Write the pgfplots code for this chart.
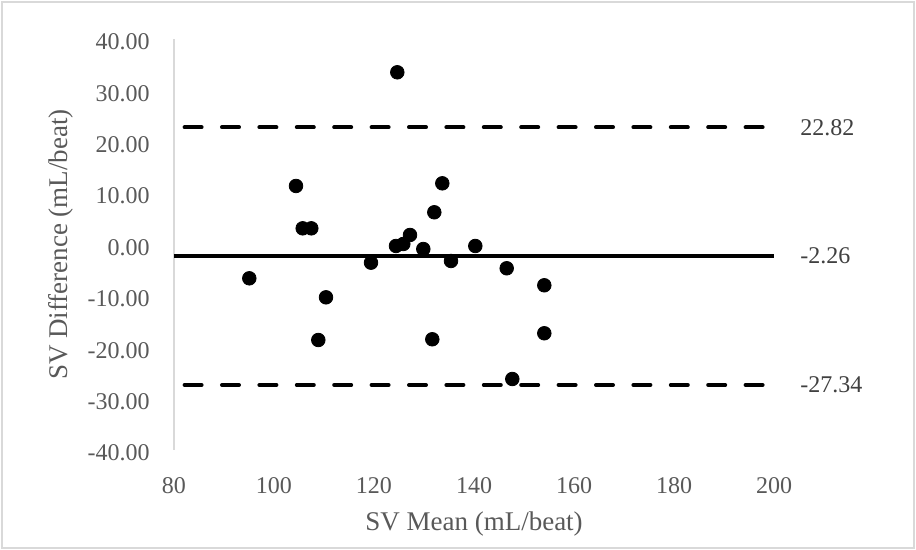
\documentclass[border=0pt]{standalone}
\usepackage{pgfplots}
\pgfplotsset{compat=1.18}
\usepackage{fontspec}
\setmainfont{Liberation Serif}
\definecolor{txt}{HTML}{595959}
\definecolor{lbl}{HTML}{404040}
\definecolor{axl}{HTML}{D9D9D9}
\begin{document}
\begin{tikzpicture}
\begin{axis}[
  at={(0,0)}, anchor=south west,
  scale only axis, width=300pt, height=205.5pt,
  xmin=80, xmax=200, ymin=-40, ymax=40,
  clip=false,
  axis x line*=bottom, axis y line*=left,
  x axis line style={draw=none},
  y axis line style={draw=axl, line width=0.8pt},
  major tick length=0pt,
  xtick={80,100,120,140,160,180,200},
  xticklabels={80,100,120,140,160,180,200},
  ytick={-40,-30,-20,-10,0,10,20,30,40},
  yticklabels={-40.00,-30.00,-20.00,-10.00,0.00,10.00,20.00,30.00,40.00},
  font=\fontsize{12}{14}\selectfont,
  tick label style={text=txt, font=\fontsize{12}{14}\selectfont},
  yticklabel style={anchor=east, inner sep=0pt, xshift=-12pt, yshift=-1.5pt},
  xticklabel style={anchor=north, inner sep=0pt, yshift=-13.5pt},
  xlabel={SV Mean (mL/beat)},
  ylabel={SV Difference (mL/beat)},
  label style={text=txt, font=\fontsize{13.5}{15}\selectfont},
  xlabel style={at={(axis description cs:0.5,-0.18)}, anchor=center},
  ylabel style={at={(axis description cs:-0.188,0.5)}, anchor=center},
]
\addplot[black, line width=2pt, line cap=round, dash pattern=on 8.5pt off 10.2pt, dash phase=13.4pt] coordinates {(80,22.82) (200,22.82)};
\addplot[black, line width=2pt] coordinates {(80,-2.26) (200,-2.26)};
\addplot[black, line width=2pt, line cap=round, dash pattern=on 8.5pt off 10.2pt, dash phase=13.4pt] coordinates {(80,-27.34) (200,-27.34)};
\addplot[only marks, mark=*, mark size=3.4pt, black] coordinates {
(124.66,33.52) (104.40,11.39) (105.74,3.15) (107.46,3.15) (133.66,11.91)
(132.06,6.27) (127.20,1.85) (125.86,0.10) (124.40,-0.29) (129.86,-0.88)
(140.26,-0.29) (119.40,-3.54) (135.40,-3.21) (146.54,-4.63) (95.06,-6.58)
(110.40,-10.28) (108.86,-18.59) (131.66,-18.45) (154.06,-7.94) (154.06,-17.28)
(147.66,-26.18)
};
\node[anchor=west, inner sep=0pt, text=lbl, xshift=13pt] at (axis cs:200,22.82) {22.82};
\node[anchor=west, inner sep=0pt, text=lbl, xshift=13pt] at (axis cs:200,-2.26) {-2.26};
\node[anchor=west, inner sep=0pt, text=lbl, xshift=13pt] at (axis cs:200,-27.34) {-27.34};
\end{axis}
\pgfresetboundingbox
\path[use as bounding box] (-87pt,-50pt) rectangle (371pt,225pt);
\draw[axl, line width=0.75pt] (-86pt,-49pt) rectangle (370pt,224pt);
\end{tikzpicture}
\end{document}
